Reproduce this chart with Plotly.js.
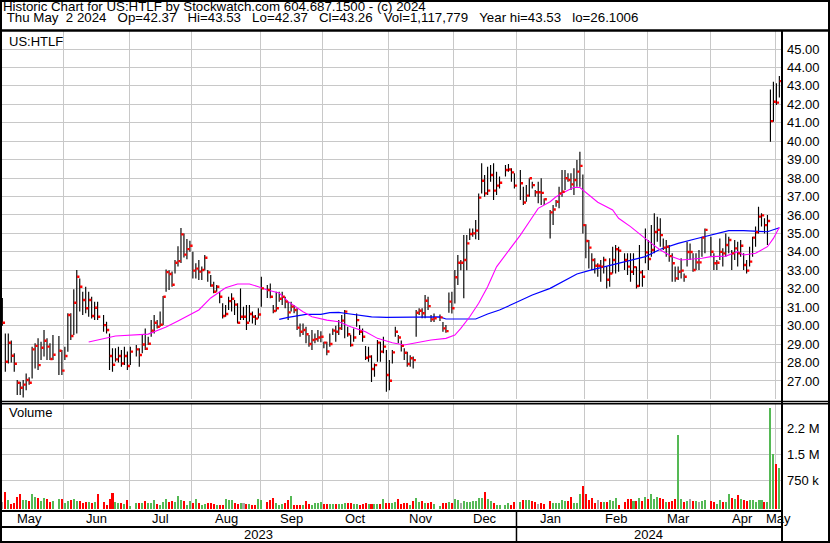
<!DOCTYPE html>
<html>
<head>
<meta charset="utf-8">
<script src="https://cdn.plot.ly/plotly-3.0.1.min.js"></script>
<style>
  html, body { margin: 0; padding: 0; background: #fff; }
  #chart { width: 830px; height: 543px; }
</style>
</head>
<body>
<div id="chart"></div>
<script>
// ---- HTLF daily bars, 2023-05-01 .. 2024-05-02 ----
const startDate = '2023-05-01';
const endDate = '2024-05-02';
const holidays = ['2023-05-29','2023-06-19','2023-07-04','2023-09-04','2023-11-23',
                  '2023-12-25','2024-01-01','2024-01-15','2024-02-19','2024-03-29'];

const high = [
  31.8,31.3,31.5,29.58,29.58,29.2,28.5,27.05,26.96,27.05,27.41,27.2,28.86,29.04,29.31,29.13,29.76,29.31,29.04,29.49,29.44,28.68,
  28.86,30.67,30.67,31.97,33.02,32.56,31.84,32.11,31.84,31.57,31.3,31.3,30.58,30.21,29.58,28.77,28.77,28.86,28.68,28.86,28.6,
  28.86,28.95,28.77,29.49,29.85,29.4,30.3,30.58,30.3,30.76,31.6,33.05,33.0,32.93,33.56,34.3,35.3,35.0,34.7,34.6,
  34.01,33.38,33.56,33.2,33.83,33.02,32.74,32.38,32.2,31.84,31.21,31.12,31.57,31.75,31.39,31.21,32.02,31.03,31.12,31.12,30.76,30.58,30.94,
  32.65,32.2,32.29,31.12,31.84,31.84,31.84,31.57,31.3,31.3,31.12,30.94,30.12,30.12,29.94,29.49,29.76,29.58,29.76,29.7,
  29.13,29.13,29.58,29.85,30.0,30.3,30.58,30.85,29.94,29.5,29.85,30.66,30.03,29.85,28.9,28.86,28.4,27.95,29.22,29.13,29.4,28.68,
  28.13,28.68,29.94,29.49,29.2,28.77,28.59,28.4,28.32,30.85,30.94,30.94,31.66,31.57,30.57,30.66,30.6,30.2,30.03,31.79,31.84,
  33.01,33.83,33.56,34.91,34.91,35.27,35.27,35.73,37.17,38.8,38.17,38.62,38.71,38.8,38.35,38.08,38.71,38.76,38.53,38.26,
  38.44,37.53,37.62,37.99,37.8,37.35,37.8,37.99,36.9,36.27,36.54,36.81,37.53,38.44,38.44,38.26,38.26,38.53,38.98,39.43,38.2,
  35.5,34.64,33.92,33.65,33.38,33.56,33.74,33.2,33.65,34.28,34.37,34.28,33.92,33.92,33.92,33.92,33.2,34.37,33.02,35.27,
  34.64,35.45,36.09,35.9,35.82,34.73,34.64,34.37,33.92,33.2,33.2,33.65,32.83,34.55,34.46,33.92,33.92,34.1,34.82,35.27,
  34.82,33.92,33.56,34.73,34.19,35.0,34.82,34.1,34.64,34.55,34.64,33.92,33.56,34.28,34.82,35.37,36.45,36.09,35.82,36.0,42.8,43.23,
  43.14,43.53
];
const low = [
  30.6,29.9,30.0,27.5,27.95,28.0,27.5,26.24,26.24,26.1,26.5,26.8,27.14,27.68,27.59,28.13,28.32,28.13,28.13,28.13,27.32,27.32,
  28.13,28.59,29.22,29.49,29.58,30.76,30.58,30.67,30.48,30.39,30.3,30.3,29.67,29.58,27.59,27.5,28.04,28.0,27.77,27.86,27.6,
  27.86,28.32,27.77,28.5,28.68,28.95,29.4,29.58,29.85,29.94,30.03,31.84,31.93,32.11,32.83,33.2,33.4,33.7,33.6,34.0,
  32.56,32.56,32.47,32.47,33.0,32.38,32.11,31.75,31.84,31.21,30.39,30.48,30.85,30.76,30.58,30.12,30.3,30.3,29.76,30.21,30.12,30.03,30.39,
  31.03,31.5,31.48,30.67,30.76,31.3,31.12,30.94,30.3,30.76,30.67,29.76,29.4,29.49,29.04,28.86,28.68,29.04,29.13,29.1,
  28.77,28.4,28.86,29.49,29.13,29.49,29.76,29.31,29.4,28.86,29.13,29.94,29.49,29.13,28.13,28.04,26.95,27.23,28.04,28.04,28.5,26.41,
  26.5,27.95,29.4,29.04,28.6,28.13,27.77,27.77,27.68,29.4,30.57,30.4,30.4,30.85,30.2,30.2,30.25,29.67,29.62,30.7,30.66,
  31.2,32.2,33.0,31.48,33.0,34.64,34.82,34.68,34.64,37.17,36.99,37.08,37.8,36.81,37.08,37.44,38.08,38.35,37.8,37.44,
  36.81,36.54,36.72,36.99,37.44,36.99,36.63,36.54,36.54,34.73,35.46,36.45,36.36,36.99,37.35,37.8,37.35,37.08,37.53,37.53,35.0,
  33.65,33.1,33.02,32.83,32.65,32.38,32.83,32.02,32.11,32.83,32.83,32.92,33.02,32.74,32.38,32.74,32.02,32.11,32.11,33.38,
  33.02,33.74,33.92,34.55,34.28,34.1,33.74,33.47,32.38,32.38,32.47,32.56,32.38,33.2,33.56,32.92,33.02,33.02,33.74,33.92,
  33.74,33.02,33.02,33.56,33.2,33.74,33.92,33.02,33.56,33.2,33.74,33.02,32.83,33.2,33.74,34.28,35.0,35.37,35.0,34.37,39.97,41.06,
  41.96,42.37
];
const close = [
  31.2,30.16,30.16,28.04,29.07,28.37,27.93,26.9,26.63,26.8,27.05,26.9,28.71,28.9,27.86,28.8,29.18,28.86,28.19,28.42,28.64,27.56,
  28.35,30.58,29.44,31.24,32.65,32.11,31.39,30.94,31.39,30.52,30.97,30.48,30.03,29.76,28.35,27.88,28.17,28.35,27.95,28.35,27.81,
  28.59,28.71,28.41,28.98,28.75,29.02,29.73,30.16,29.94,30.05,31.57,32.9,32.8,32.22,33.41,33.5,34.95,33.85,34.15,34.33,
  32.98,33.09,32.93,33.02,33.68,32.89,32.18,31.84,32.11,31.57,30.52,30.63,31.33,31.46,31.14,30.16,30.48,30.48,30.16,30.63,30.48,30.38,30.6,
  32.02,31.93,31.57,30.79,30.94,31.46,31.57,31.3,30.72,31.03,30.85,29.89,29.67,29.76,29.53,29.0,29.22,29.27,29.36,29.4,
  29.08,28.6,29.0,29.73,29.67,29.85,30.27,30.76,29.53,28.95,29.36,30.3,29.67,29.4,28.26,28.32,27.65,27.86,29.08,28.59,28.86,27.32,
  27.01,28.55,29.67,29.36,28.9,28.53,27.92,28.23,28.13,30.7,30.81,30.67,31.35,31.06,30.34,30.4,30.45,29.85,29.7,31.3,30.94,
  32.62,33.41,33.41,33.56,34.46,34.97,35.0,35.15,36.94,37.86,37.17,37.32,38.17,37.32,37.59,37.75,38.44,38.47,38.31,37.59,
  37.72,36.68,37.05,37.99,37.62,37.23,37.23,37.2,36.85,36.14,36.3,36.72,37.17,37.26,37.99,37.9,37.66,37.9,38.35,38.66,35.45,
  34.59,34.23,33.56,33.25,33.25,33.2,33.56,32.49,32.83,33.56,34.14,34.06,33.56,33.2,32.92,33.17,32.15,32.89,32.65,33.97,
  33.61,34.1,35.08,35.19,34.91,34.23,34.28,33.77,33.38,32.56,32.92,32.98,32.65,33.99,33.99,33.02,33.43,33.43,34.77,35.19,
  34.01,33.38,33.41,34.0,33.92,34.37,34.64,33.92,34.19,33.92,34.33,33.29,32.98,33.47,34.77,35.06,35.91,35.98,35.45,35.67,41.09,42.14,
  42.09,43.26
];
// shares traded, in thousands
const volumeK = [
  300,250,124,413,182,66,95,269,355,182,182,153,355,269,240,153,240,211,124,153,211,211,
  95,153,182,211,153,153,95,124,124,95,124,355,124,37,211,384,124,95,95,66,182,
  10,95,95,95,153,95,95,182,66,37,124,211,124,153,124,298,182,153,37,153,
  95,211,95,37,66,95,95,66,37,37,37,211,182,182,95,66,95,95,66,66,37,37,211,
  182,124,182,240,95,37,66,95,182,298,37,37,37,37,153,66,37,95,95,124,
  66,66,66,66,66,66,66,95,95,95,66,66,37,66,95,66,66,66,66,66,211,95,
  95,95,124,211,66,95,95,37,153,250,124,153,95,95,124,80,5,95,95,124,95,
  211,182,95,153,124,124,153,153,240,240,413,211,153,95,37,37,37,95,37,124,
  124,182,182,182,153,124,66,95,66,153,95,95,95,182,153,153,269,95,95,355,586,
  355,182,240,95,182,124,124,124,182,153,240,37,124,211,211,153,153,240,153,269,
  211,355,211,269,240,211,124,124,153,211,2057,211,124,153,211,153,153,124,153,182,
  153,124,66,182,124,124,355,240,211,327,211,182,153,182,182,124,182,182,124,124,2836,1509,
  1220,1118
];

// short moving average (magenta)
const maShortDates = ['2023-06-13','2023-06-26','2023-07-11','2023-07-19','2023-07-25','2023-08-03','2023-08-09','2023-08-16',
  '2023-08-22','2023-08-28','2023-08-31','2023-09-05','2023-09-11','2023-09-14','2023-09-21','2023-09-26','2023-10-03',
  '2023-10-09','2023-10-13','2023-10-20','2023-10-26','2023-11-02','2023-11-08','2023-11-15','2023-11-21','2023-11-28',
  '2023-12-01','2023-12-05','2023-12-08','2023-12-13','2023-12-18','2023-12-21','2023-12-26','2023-12-29','2024-01-02',
  '2024-01-05','2024-01-10','2024-01-16','2024-01-18','2024-01-23','2024-01-26','2024-01-30','2024-02-02','2024-02-07',
  '2024-02-14','2024-02-16','2024-02-22','2024-02-28','2024-03-04','2024-03-07','2024-03-13','2024-03-18','2024-03-21',
  '2024-03-27','2024-04-01','2024-04-08','2024-04-12','2024-04-16','2024-04-22','2024-04-26','2024-04-30','2024-05-02'];
const maShortValues = [29.11,29.44,29.54,29.92,30.25,30.85,31.5,32.05,
  32.26,32.26,32.11,31.93,31.77,31.3,30.75,30.48,30.3,
  30.21,29.94,29.67,29.31,29.07,28.95,29.11,29.22,29.31,
  29.49,29.85,30.48,31.21,32.11,33.19,33.83,34.46,34.91,
  35.63,36.36,36.72,36.99,37.26,37.5,37.49,37.08,36.69,
  36.27,35.82,35.37,34.82,34.46,34.1,33.74,33.56,33.6,
  33.65,33.74,33.77,34.01,33.83,33.92,34.28,34.73,35.33];

// long moving average (blue)
const maLongDates = ['2023-09-11','2023-09-14','2023-09-22','2023-09-29','2023-10-04','2023-10-09','2023-10-11','2023-10-18',
  '2023-10-24','2023-10-31','2023-11-15','2023-11-24','2023-11-28','2023-12-12','2023-12-18','2023-12-22','2023-12-29',
  '2024-01-08','2024-01-16','2024-01-23','2024-01-29','2024-02-02','2024-02-14','2024-02-21','2024-02-29','2024-03-07',
  '2024-03-15','2024-03-25','2024-04-01','2024-04-09','2024-04-16','2024-04-23','2024-04-26','2024-05-02'];
const maLongValues = [30.34,30.45,30.61,30.61,30.7,30.72,30.67,30.57,
  30.47,30.45,30.45,30.47,30.36,30.36,30.63,30.85,31.21,
  31.66,32.02,32.47,32.8,32.98,33.29,33.52,33.74,34.14,
  34.46,34.71,34.91,35.15,35.15,35.09,35.09,35.31];

const monthStarts = ['2023-05-01','2023-06-01','2023-07-01','2023-08-01','2023-09-01','2023-10-01','2023-11-01',
  '2023-12-01','2024-01-01','2024-02-01','2024-03-01','2024-04-01','2024-05-01'];
const monthNames = ['May','Jun','Jul','Aug','Sep','Oct','Nov','Dec','Jan','Feb','Mar','Apr','May'];
const yearNames = ['2023','2024'];
const priceTicks = [27,28,29,30,31,32,33,34,35,36,37,38,39,40,41,42,43,44,45];
const volTicks = [750,1500,2250];
const volTickText = ['750 k','1.5 M','2.2 M'];

const headerLine1 = 'Historic Chart for US:HTLF by Stockwatch.com 604.687.1500 - (c) 2024';
const headerLine2 = ' Thu May  2 2024   Op=42.37   Hi=43.53   Lo=42.37   Cl=43.26   Vol=1,117,779   Year hi=43.53   lo=26.1006';

// ---- weekday axis: every weekday gets a slot, holidays stay empty ----
const DAY = 86400000;
function utc(s) { const p = s.split('-').map(Number); return Date.UTC(p[0], p[1] - 1, p[2]); }
const t0 = utc(startDate);
function slot(s) {
  let n = 0;
  for (let t = t0; t < utc(s); t += DAY) {
    const wd = new Date(t).getUTCDay();
    if (wd !== 0 && wd !== 6) n++;
  }
  return n;
}
const holidaySet = new Set(holidays);
const dates = [];
for (let t = t0; t <= utc(endDate); t += DAY) {
  const d = new Date(t), wd = d.getUTCDay();
  const s = d.toISOString().slice(0, 10);
  if (wd === 0 || wd === 6 || holidaySet.has(s)) continue;
  dates.push(s);
}
const xs = dates.map(slot);

const W = 830, H = 543;
const px = v => v / W;
const py = v => 1 - v / H;
const xRange = [1.55, 263.55];
const volBase = -78;
const FONT = 'Liberation Sans, Arial, sans-serif';

// high-low strokes
const hlX = [], hlY = [];
xs.forEach((x, i) => { hlX.push(x, x, null); hlY.push(low[i], high[i], null); });

// volume colouring by close-to-close change
const volColors = close.map((c, i) => {
  if (i === 0) return '#55b955';
  if (c > close[i - 1]) return '#55b955';
  if (c < close[i - 1]) return '#ff0000';
  return '#a8a8a8';
});

const gridX = monthStarts.slice(1).map(s => slot(s) - 0.3);
const edges = [slot(monthStarts[0]) - 0.3].concat(gridX);
const monthPos = edges.map((e, i) => i < edges.length - 1 ? (e + edges[i + 1]) / 2 : (e + xRange[1]) / 2);
const janX = gridX[7];

const traces = [
  { type: 'bar', x: xs, y: volumeK.map(v => v - volBase), base: volBase, width: 0.68,
    marker: { color: volColors, line: { width: 0 } }, xaxis: 'x2', yaxis: 'y2', hoverinfo: 'skip' },
  { type: 'scatter', mode: 'lines', x: hlX, y: hlY, line: { color: '#000', width: 1.15 },
    connectgaps: false, hoverinfo: 'skip' },
  { type: 'scatter', mode: 'lines', x: maLongDates.map(slot), y: maLongValues,
    line: { color: '#0000ff', width: 1.2 }, hoverinfo: 'skip' },
  { type: 'scatter', mode: 'lines', x: maShortDates.map(slot), y: maShortValues,
    line: { color: '#ff00ff', width: 1.1 }, hoverinfo: 'skip' },
  { type: 'scatter', mode: 'markers', x: xs.map(x => x + 0.5), y: close,
    marker: { symbol: 'square', size: 2.4, color: '#ff0000', line: { width: 0 } }, hoverinfo: 'skip' }
];

function hline(y, x0, x1, w) {
  return { type: 'line', xref: 'paper', yref: 'paper', x0: px(x0), x1: px(x1), y0: py(y), y1: py(y),
           line: { color: '#000', width: w }, layer: 'above' };
}
function vline(x, y0, y1, w) {
  return { type: 'line', xref: 'paper', yref: 'paper', x0: px(x), x1: px(x), y0: py(y0), y1: py(y1),
           line: { color: '#000', width: w }, layer: 'above' };
}
const shapes = [
  hline(1, 0, W, 2), hline(542, 0, W, 2), vline(1, 0, H, 2), vline(829, 0, H, 2),
  hline(30.5, 0, W, 2.5),
  hline(401.6, 0, W, 1.5), hline(403.7, 0, W, 1.5),
  hline(511, 0, 782, 2), hline(527, 0, 782, 2),
  vline(782, 30, 542, 2),
  { type: 'line', xref: 'x', yref: 'paper', x0: janX, x1: janX, y0: py(511), y1: py(541),
    line: { color: '#000', width: 1.5 }, layer: 'above' }
];

function label(text, x, y, xref, anchor, size) {
  return { text: text.replace(/ /g, '\u00a0'), x: x, y: y, xref: xref, yref: 'paper',
           xanchor: anchor, yanchor: 'middle', showarrow: false, borderpad: 0, borderwidth: 0,
           font: { family: FONT, size: size || 13, color: '#000' } };
}
const annotations = [
  label(headerLine1, px(2.5), py(6.3), 'paper', 'left', 13.3),
  label(headerLine2, px(2.5), py(17.4), 'paper', 'left', 13.3),
  label('US:HTLF', px(8.5), py(41.5), 'paper', 'left'),
  label('Volume', px(8.5), py(413), 'paper', 'left')
];
monthNames.forEach((m, i) => annotations.push(label(m, monthPos[i], py(518), 'x', 'center')));
annotations.push(label(yearNames[0], (xRange[0] + janX) / 2, py(534.5), 'x', 'center'));
annotations.push(label(yearNames[1], (janX + xRange[1]) / 2, py(534.5), 'x', 'center'));

const layout = {
  width: W, height: H, margin: { l: 0, r: 0, t: 0, b: 0 },
  paper_bgcolor: '#fff', plot_bgcolor: '#fff', showlegend: false, hovermode: false,
  bargap: 0,
  font: { family: FONT, size: 13, color: '#000' },
  xaxis: { domain: [px(1), px(781)], range: xRange, anchor: 'y', tickmode: 'array', tickvals: gridX,
           showticklabels: false, ticks: '', showgrid: true, gridcolor: '#c8c8c8', gridwidth: 1,
           zeroline: false, showline: false },
  xaxis2: { domain: [px(1), px(781)], range: xRange, anchor: 'y2', matches: 'x', tickmode: 'array', tickvals: gridX,
            showticklabels: false, ticks: '', showgrid: true, gridcolor: '#c8c8c8', gridwidth: 1,
            zeroline: false, showline: false },
  yaxis: { domain: [py(399.4), py(30.56)], range: [26, 46], side: 'right', anchor: 'x',
           tickmode: 'array', tickvals: priceTicks, tickformat: '.2f', ticks: '', ticklabelstandoff: 5,
           showgrid: true, gridcolor: '#c8c8c8', gridwidth: 1, zeroline: false, showline: false,
           tickfont: { family: FONT, size: 13, color: '#000' } },
  yaxis2: { domain: [py(509), py(403)], range: [volBase, 2980], side: 'right', anchor: 'x2',
            tickmode: 'array', tickvals: volTicks, ticktext: volTickText, ticks: '', ticklabelstandoff: 5,
            showgrid: true, gridcolor: '#c8c8c8', gridwidth: 1, zeroline: false, showline: false,
            tickfont: { family: FONT, size: 13, color: '#000' } },
  shapes: shapes,
  annotations: annotations
};

Plotly.newPlot('chart', traces, layout, { staticPlot: true, displayModeBar: false });
</script>
</body>
</html>
